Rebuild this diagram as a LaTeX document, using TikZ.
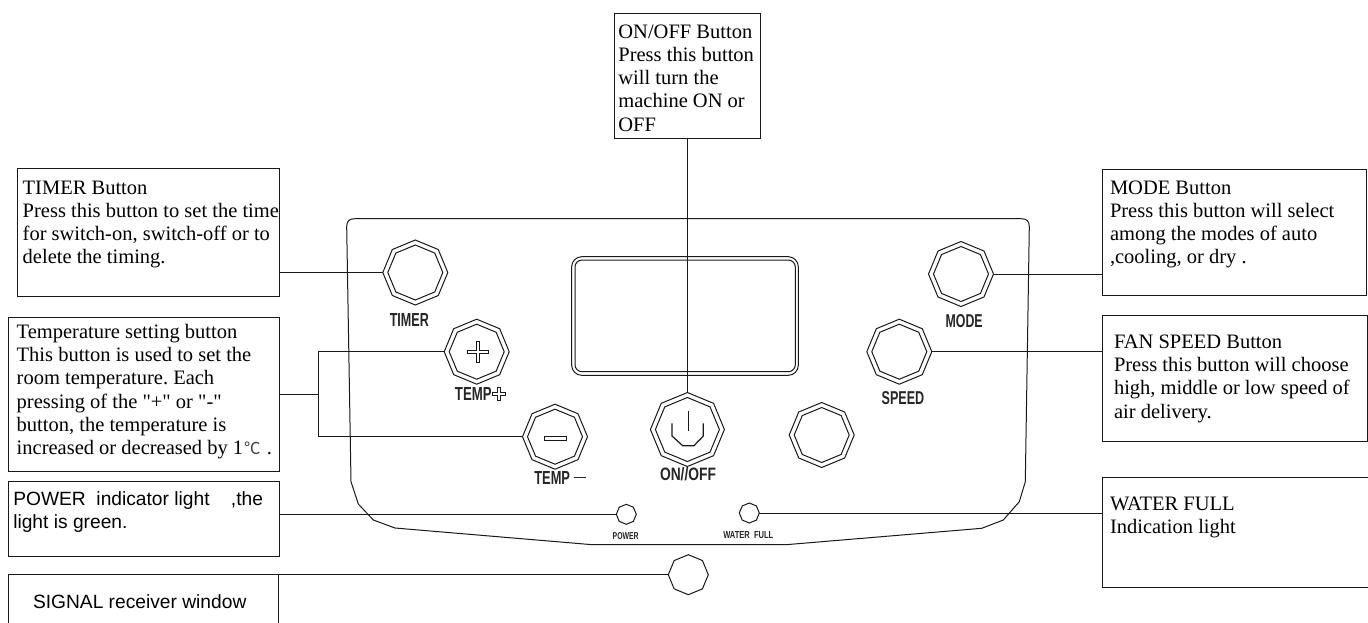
\documentclass[tikz,border=0pt]{standalone}
\usepackage{fontspec}
\usepackage{graphicx}
\usetikzlibrary{shapes.geometric}
\setmainfont{Liberation Serif}
\newfontfamily\quotef{Liberation Serif}
\newfontfamily\arialf{Liberation Sans}
\newfontfamily\panelf{Liberation Sans Bold}
\newfontfamily\cjkf{Noto Sans CJK SC}
\frenchspacing
\tikzset{
  ink/.style={line width=1pt,draw=black!90},
  callout/.style={ink,rectangle,inner sep=0pt,outer sep=0pt,anchor=north west,fill=none},
  octo/.style={ink,regular polygon,regular polygon sides=8,shape border rotate=22.5,inner sep=0pt,outer sep=0pt},
  wire/.style={ink},
  tag/.style={inner sep=0pt,outer sep=0pt,text=black!85},
  shell/.style={ink,line join=miter},
}
% width, height, left pad, first-baseline offset, font, lines
\newcommand{\lne}[1]{\hbox{\rule[-7.3pt]{0pt}{23.3pt}#1}}
\newcommand{\boxtext}[6]{\makebox[#1pt][l]{\hspace{#3pt}\parbox[c][#2pt][t]{\dimexpr#1pt-#3pt\relax}{#5\vskip\dimexpr#4pt-16pt\relax #6}}}
\newcommand{\serifsz}{\frenchspacing\fontsize{20.5}{23.3}\selectfont}
\newcommand{\sanssz}{\arialf\fontsize{19.2}{23.3}\selectfont}
\newcommand{\btn}[4]{\node[octo,minimum size=#4*2pt] (#1) at (#2,#3) {};\node[octo,minimum size=#4*2pt-10pt] (#1in) at (#1.center) {};}
\newcommand{\plab}[5]{\node[tag] (#1) at (#2,#3) {\resizebox{#4pt}{#5pt}{\panelf\csname labtxt#1\endcsname}};}
\newcommand{\labtxttimerl}{TIMER}
\newcommand{\labtxtpluslab}{TEMP}
\newcommand{\labtxtminuslab}{TEMP}
\newcommand{\labtxtonlab}{ON//OFF}
\newcommand{\labtxtspeedl}{SPEED}
\newcommand{\labtxtmodel}{MODE}
\newcommand{\labtxtpowl}{POWER}
\newcommand{\labtxtwatl}{WATER\ \ FULL}
\begin{document}
\begin{tikzpicture}[x=1pt,y=-1pt]
\path[use as bounding box,fill=white] (0,0) rectangle (1368,622);
% panel outline
\draw[shell] (351,481.7) -- (346.7,227) .. controls (346.7,221) and (349,218.7) .. (355,218.7) -- (1021,218.7) .. controls (1027,218.7) and (1029.3,221) .. (1029.3,227) -- (1025.3,481.7) -- (1019.3,501.7) -- (1003.3,520) -- (981.7,528.3) -- (788.3,544.5) -- (590,544.5) -- (395,528) -- (373.3,520) -- (358.3,504) -- cycle;
% display
\draw[ink,rounded corners=10] (571.7,256.7) rectangle (798.3,375.3);
\draw[ink,rounded corners=7] (575,260) rectangle (795.3,371.7);
% buttons
\btn{tbtn}{415.3}{272.5}{32.5}
\btn{plusbtn}{476.7}{351.7}{32.5}
\btn{minusbtn}{555}{436.7}{32.5}
\btn{onbtn}{687.4}{429.5}{37}
\btn{blankbtn}{821.7}{435}{32.5}
\btn{speedbtn}{899.3}{351.7}{32.5}
\btn{modebtn}{961}{274}{32.5}
\node[octo,minimum size=20pt] (powled) at (626.3,514.3) {};
\node[octo,minimum size=20pt] (watled) at (749.3,513) {};
\node[octo,minimum size=40pt] (sigwin) at (688.3,574.7) {};
% button glyphs
\draw[ink,line width=.8pt] (475.9,341.3) -- (479.5,341.3) -- (479.5,349.9) -- (488.4,349.9) -- (488.4,353.5) -- (479.5,353.5) -- (479.5,362.1) -- (475.9,362.1) -- (475.9,353.5) -- (467,353.5) -- (467,349.9) -- (475.9,349.9) -- cycle;
\draw[ink,line width=.8pt] (544.3,436) rectangle (566.7,440);
\draw[ink] (688,410.7) -- (688,430.7);
\draw[ink,line width=1.2pt] (672,423.3) -- (672,436) -- (682.7,445.7) -- (694,445.7) -- (703.3,436) -- (703.3,423.3);
% panel labels
\plab{timerl}{409.3}{319.5}{39}{13}
\plab{pluslab}{473.3}{393.5}{36.7}{13}
\draw[ink,line width=.7pt] (497.5,387) -- (500.5,387) -- (500.5,392) -- (505.5,392) -- (505.5,395) -- (500.5,395) -- (500.5,400) -- (497.5,400) -- (497.5,395) -- (492.5,395) -- (492.5,392) -- (497.5,392) -- cycle;
\plab{minuslab}{552.2}{477.7}{35.7}{13}
\fill[black!85] (574.3,476.6) rectangle (586,478.4);
\plab{onlab}{688}{474.3}{56}{13}
\plab{speedl}{903}{397.7}{42.6}{13}
\plab{model}{964.2}{320.7}{37}{13}
\plab{powl}{625.7}{535.7}{26}{7}
\plab{watl}{748.3}{535}{50}{7}
% callout boxes
\node[callout] (onbox) at (614.7,13) {\boxtext{145.5}{125}{3.7}{25}{\serifsz}{\lne{ON/OFF Button}\lne{Press this button}\lne{will turn the}\lne{machine ON or}\lne{OFF}}};
\node[callout] (timerbox) at (17,168.5) {\boxtext{262.5}{127.5}{5.7}{25.5}{\serifsz}{\lne{TIMER Button}\lne{Press this button to set the time}\lne{for switch-on, switch-off or to}\lne{delete the timing.}}};
\node[callout] (tempbox) at (8,317) {\boxtext{271.5}{154.3}{8.7}{21.3}{\serifsz}{\lne{Temperature setting button}\lne{This button is used to set the}\lne{room temperature. Each}\lne{pressing of the {\quotef"+"} or {\quotef"-"}}\lne{button, the temperature is}\lne{increased or decreased by 1\hspace{1pt}{\color{black!75}\cjkf\fontsize{16.5}{20}\selectfont ℃}\hspace{1pt} .}}};
\node[callout] (powbox) at (8,481.7) {\boxtext{271.5}{74.3}{5.3}{23.3}{\sanssz}{\lne{POWER\ \ indicator light\ \ \ \ ,the}\lne{light is green.}}};
\node[callout] (sigbox) at (8,574.7) {\boxtext{270.5}{60}{25}{33.3}{\sanssz}{\lne{SIGNAL receiver window}}};
\node[callout] (modebox) at (1102,169) {\boxtext{264.7}{126}{8}{25}{\serifsz}{\lne{MODE Button}\lne{Press this button will select}\lne{among the modes of auto}\lne{,cooling, or dry .}}};
\node[callout] (fanbox) at (1102,315) {\boxtext{265}{126}{12}{33.3}{\serifsz}{\lne{FAN SPEED Button}\lne{Press this button will choose}\lne{high, middle or low speed of}\lne{air delivery.}}};
\node[callout] (watbox) at (1102,477.7) {\boxtext{270}{110}{8}{32.3}{\serifsz}{\lne{WATER FULL}\lne{Indication light}}};
% connectors
\draw[wire] (onbox.south -| onbtn.north) -- (onbtn.north);
\draw[wire] (tbtn.west) -- (tbtn.west -| timerbox.east);
\coordinate (brk) at (318.3,394);
\draw[wire] (tempbox.east |- brk) -- (brk);
\draw[wire] (plusbtn.west) -- (plusbtn.west -| brk) -- (minusbtn.west -| brk) -- (minusbtn.west);
\draw[wire] (powled.west) -- (powled.west -| powbox.east);
\draw[wire] (sigwin.west) -- (sigwin.west -| sigbox.east);
\draw[wire] (modebtn.east) -- (modebtn.east -| modebox.west);
\draw[wire] (speedbtn.east) -- (speedbtn.east -| fanbox.west);
\draw[wire] (watled.east) -- (watled.east -| watbox.west);
\end{tikzpicture}
\end{document}
